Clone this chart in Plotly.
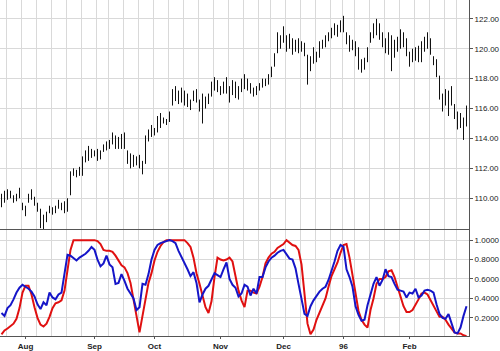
import pandas as pd
import plotly.graph_objects as go

# ---- data ----
holidays = ["1995-09-04", "1995-11-23", "1995-12-25", "1996-01-01", "1996-02-19"]
month_labels = {8: "Aug", 9: "Sep", 10: "Oct", 11: "Nov", 12: "Dec", 1: "96", 2: "Feb"}

highs = [
    110.3, 110.5, 110.6, 110.5, 110.2, 110.3, 110.7, 109.7, 109.5, 110.3,
    110.6, 110.1, 109.7, 109.3, 108.9, 109.1, 109.5, 109.4, 109.5, 109.9,
    109.7, 109.8, 110.0, 111.8, 112.0, 111.9, 112.1, 112.8, 113.2, 113.5,
    113.3, 113.2, 113.3, 113.2, 113.6, 113.8, 113.9, 114.4, 114.2, 114.1,
    114.3, 114.4, 113.2, 113.0, 112.9, 112.8, 112.9, 112.5, 114.2, 114.6,
    114.9, 114.7, 115.5, 115.7, 115.4, 115.3, 115.8, 117.3, 117.5, 117.2,
    117.4, 117.2, 117.0, 116.6, 117.2, 117.3, 116.6, 117.0, 116.8, 117.0,
    117.8, 118.1, 117.9, 117.5, 117.8, 118.1, 117.5, 117.9, 117.8, 117.5,
    118.0, 118.3, 118.0, 117.7, 117.4, 117.5, 117.7, 118.0, 118.0, 118.3,
    118.8, 119.7, 121.1, 120.9, 121.5, 120.9, 121.0, 120.7, 120.6, 120.7,
    120.5, 120.4, 119.6, 119.5, 120.1, 119.8, 120.5, 120.6, 120.9, 121.1,
    121.4, 121.7, 121.6, 121.9, 122.2, 121.1, 120.9, 120.6, 120.5, 120.1,
    119.3, 119.4, 120.1, 121.1, 121.7, 122.0, 121.7, 121.1, 120.7, 121.1,
    120.9, 120.6, 120.8, 121.3, 121.1, 120.7, 119.8, 120.0, 120.1, 120.2,
    120.5, 120.8, 121.1, 120.7, 119.5, 119.3, 118.2, 117.0, 117.3, 117.2,
    117.5, 116.3, 115.8, 115.7, 115.4, 116.2,
]
lows = [
    109.4, 109.7, 109.9, 110.0, 109.7, 109.8, 110.0, 109.2, 108.8, 109.7,
    109.9, 109.5, 109.1, 108.0, 107.9, 108.4, 109.0, 108.9, 109.0, 109.3,
    109.2, 109.0, 109.1, 110.2, 111.5, 111.4, 111.5, 111.5, 112.4, 112.5,
    112.7, 112.8, 112.5, 112.6, 113.1, 113.2, 113.3, 113.6, 113.3, 113.3,
    113.3, 113.3, 112.3, 112.0, 112.1, 112.2, 112.0, 111.6, 112.3, 113.8,
    114.1, 114.2, 114.4, 114.7, 115.0, 114.9, 115.1, 116.2, 116.5, 116.3,
    116.4, 116.2, 116.1, 115.9, 116.5, 116.4, 115.8, 115.0, 116.0, 116.3,
    116.8, 117.2, 117.1, 116.9, 117.0, 117.0, 116.4, 116.9, 116.7, 116.6,
    117.1, 117.3, 117.2, 117.0, 116.8, 116.9, 117.2, 117.4, 117.5, 117.6,
    118.1, 118.8, 119.7, 120.0, 120.4, 119.8, 120.0, 119.6, 119.8, 119.7,
    119.8, 119.5, 117.6, 118.5, 119.0, 119.1, 119.4, 120.0, 120.1, 120.5,
    120.7, 120.9, 120.8, 121.1, 121.1, 120.3, 119.8, 119.9, 119.5, 118.6,
    118.4, 118.6, 119.1, 120.4, 120.7, 120.9, 120.6, 120.1, 119.7, 119.6,
    118.5, 119.4, 119.8, 120.0, 120.1, 119.5, 118.8, 119.1, 119.2, 119.1,
    119.1, 119.8, 120.0, 119.6, 118.9, 118.1, 116.6, 115.8, 116.2, 115.5,
    116.2, 115.3, 114.6, 114.7, 113.9, 114.8,
]
closes = [
    110.0, 110.3, 110.2, 110.4, 109.9, 110.0, 110.1, 109.5, 109.2, 110.0,
    110.2, 109.7, 109.3, 108.3, 108.2, 108.9, 109.4, 109.1, 109.2, 109.6,
    109.4, 109.2, 109.9, 111.6, 111.7, 111.6, 111.8, 112.6, 112.9, 113.2,
    113.0, 113.1, 112.7, 113.0, 113.4, 113.6, 113.5, 114.2, 113.6, 113.9,
    114.0, 113.5, 112.6, 112.3, 112.5, 112.4, 112.3, 112.0, 114.0, 114.3,
    114.5, 114.5, 115.2, 115.0, 115.2, 115.0, 115.6, 116.9, 117.0, 116.8,
    117.0, 116.5, 116.3, 116.0, 116.9, 116.8, 116.2, 116.5, 116.6, 116.8,
    117.5, 117.9, 117.3, 117.1, 117.6, 117.4, 116.8, 117.5, 117.2, 117.0,
    117.7, 117.5, 117.6, 117.2, 117.0, 117.3, 117.5, 117.8, 117.7, 118.0,
    118.6, 119.5, 120.6, 120.4, 121.0, 120.2, 120.5, 120.0, 120.3, 120.2,
    120.1, 119.9, 118.5, 119.2, 119.6, 119.4, 120.0, 120.3, 120.7, 120.9,
    121.2, 121.5, 121.0, 121.7, 121.3, 120.6, 120.2, 120.4, 119.7, 118.9,
    118.8, 119.0, 119.8, 120.9, 121.4, 121.5, 120.9, 120.4, 120.0, 120.6,
    119.0, 120.0, 120.5, 120.7, 120.4, 119.8, 119.3, 119.6, 119.5, 119.8,
    120.2, 120.5, 120.8, 119.9, 119.2, 118.3, 116.8, 116.0, 116.5, 116.0,
    116.4, 115.5, 115.0, 115.1, 114.5, 116.0,
]
blue_k = [
    0.25, 0.22, 0.30, 0.33, 0.39, 0.46, 0.51, 0.54, 0.52, 0.50,
    0.47, 0.42, 0.34, 0.29, 0.36, 0.33, 0.46, 0.41, 0.39, 0.44,
    0.46, 0.65, 0.85, 0.84, 0.81, 0.79, 0.82, 0.84, 0.86, 0.89,
    0.93, 0.90, 0.80, 0.73, 0.76, 0.84, 0.75, 0.72, 0.55, 0.56,
    0.65, 0.58, 0.50, 0.45, 0.40, 0.28, 0.31, 0.55, 0.54, 0.65,
    0.80, 0.90, 0.95, 0.97, 0.98, 0.99, 1.00, 0.99, 0.97, 0.89,
    0.83, 0.77, 0.70, 0.63, 0.67, 0.56, 0.36, 0.44, 0.50, 0.53,
    0.60, 0.66, 0.64, 0.62, 0.70, 0.77, 0.60, 0.54, 0.51, 0.42,
    0.45, 0.54, 0.52, 0.43, 0.50, 0.45, 0.62, 0.62, 0.72, 0.78,
    0.82, 0.84, 0.87, 0.89, 0.90, 0.86, 0.81, 0.80, 0.71, 0.55,
    0.39, 0.24, 0.22, 0.32, 0.38, 0.43, 0.47, 0.50, 0.52, 0.59,
    0.68, 0.78, 0.89, 0.95, 0.93, 0.70, 0.62, 0.52, 0.32, 0.23,
    0.17, 0.18, 0.33, 0.45, 0.55, 0.62, 0.53, 0.59, 0.70, 0.63,
    0.62, 0.55, 0.49, 0.48, 0.47, 0.41, 0.46, 0.45, 0.50, 0.41,
    0.43, 0.48, 0.49, 0.48, 0.46, 0.34, 0.24, 0.20, 0.19, 0.24,
    0.14, 0.05, 0.04, 0.10, 0.22, 0.32,
]
red_d = [
    0.03, 0.07, 0.09, 0.12, 0.14, 0.19, 0.30, 0.46, 0.53, 0.53,
    0.44, 0.31, 0.20, 0.13, 0.11, 0.14, 0.21, 0.30, 0.35, 0.36,
    0.38, 0.48, 0.72, 0.90, 1.00, 1.00, 1.00, 1.00, 1.00, 1.00,
    1.00, 1.00, 0.99, 0.96, 0.90, 0.89, 0.89, 0.88, 0.84, 0.79,
    0.74, 0.72, 0.66, 0.56, 0.40, 0.22, 0.05, 0.22, 0.38, 0.56,
    0.66, 0.79, 0.88, 0.94, 0.98, 1.00, 1.00, 1.00, 1.00, 1.00,
    1.00, 1.00, 0.97, 0.93, 0.82, 0.66, 0.55, 0.42, 0.31, 0.25,
    0.37, 0.62, 0.82, 0.80, 0.79, 0.80, 0.82, 0.78, 0.62, 0.48,
    0.38, 0.31, 0.48, 0.48, 0.46, 0.45, 0.52, 0.62, 0.76, 0.82,
    0.86, 0.88, 0.92, 0.94, 0.96, 1.00, 0.97, 0.95, 0.94, 0.90,
    0.75, 0.45, 0.14, 0.03, 0.08, 0.18, 0.26, 0.32, 0.40, 0.52,
    0.63, 0.70, 0.77, 0.87, 0.95, 0.96, 0.82, 0.64, 0.45, 0.27,
    0.18, 0.13, 0.10, 0.28, 0.40, 0.55, 0.60, 0.60, 0.62, 0.68,
    0.69, 0.62, 0.52, 0.43, 0.32, 0.26, 0.26, 0.28, 0.33, 0.39,
    0.45, 0.46, 0.44, 0.38, 0.32, 0.26, 0.21, 0.21, 0.18, 0.13,
    0.09, 0.05, 0.04, 0.04, 0.02, 0.01,
]
price_ticks = [110, 112, 114, 116, 118, 120, 122]
osc_ticks = [0.2, 0.4, 0.6, 0.8, 1.0]

# ---- trading-day axis ----
all_days = [d for d in pd.bdate_range("1995-07-20", "1996-02-29")
            if d.strftime("%Y-%m-%d") not in holidays]
n = len(closes)
dates = all_days[:n]
x = list(range(n))
month_vals, month_text = [], []
for i in range(1, n):
    if dates[i].month != dates[i - 1].month:
        month_vals.append(i)
        month_text.append(month_labels[dates[i].month])
week_vals = [i - 0.5 for i in range(1, n) if dates[i].weekday() < dates[i - 1].weekday()]

FONT = "Liberation Sans, Arial, sans-serif"
GRID = "#d9d9d9"
AX = "#555555"

fig = go.Figure()
fig.add_trace(go.Ohlc(
    x=x, open=closes, high=highs, low=lows, close=closes,
    increasing=dict(line=dict(color="#111111", width=1)),
    decreasing=dict(line=dict(color="#111111", width=1)),
    tickwidth=0.15, xaxis="x", yaxis="y", showlegend=False, hoverinfo="skip"))
fig.add_trace(go.Scatter(x=x, y=red_d, mode="lines", line=dict(color="#e01010", width=2),
                         xaxis="x2", yaxis="y2", showlegend=False))
fig.add_trace(go.Scatter(x=x, y=blue_k, mode="lines", line=dict(color="#1515c8", width=2),
                         xaxis="x2", yaxis="y2", showlegend=False))

split = 107 / 339
xr = [-0.5, 155.83]
minor_grid = dict(tickvals=week_vals, showgrid=True, gridcolor=GRID, gridwidth=1,
                  ticks="", ticklen=0)
fig.update_layout(
    width=500, height=351, margin=dict(l=0, r=31, t=0, b=12),
    paper_bgcolor="white", plot_bgcolor="white", showlegend=False,
    font=dict(family=FONT, size=8, color="#222222"),
    xaxis=dict(domain=[0, 1], anchor="y", range=xr, showticklabels=False, ticks="",
               showgrid=False, zeroline=False, showline=False, fixedrange=True,
               minor=minor_grid, rangeslider=dict(visible=False)),
    yaxis=dict(domain=[split, 1], anchor="x", side="right", range=[107.88, 123.26],
               tickmode="array", tickvals=price_ticks, tickformat=".2f",
               showgrid=True, gridcolor=GRID, zeroline=False, showline=True,
               linecolor=AX, ticks="outside", ticklen=3, tickcolor=AX,
               tickfont=dict(size=8, color="#222222")),
    xaxis2=dict(domain=[0, 1], anchor="y2", range=xr, tickmode="array",
                tickvals=month_vals, ticktext=month_text, ticks="outside", ticklen=2,
                tickcolor=AX, showgrid=False, zeroline=False, showline=True,
                linecolor=AX, linewidth=1, mirror=True, fixedrange=True,
                minor=minor_grid,
                tickfont=dict(size=8, color="#222222", weight="bold")),
    yaxis2=dict(domain=[0, split], anchor="x2", side="right", range=[0.013, 1.105],
                tickmode="array", tickvals=osc_ticks, tickformat=".4f",
                showgrid=True, gridcolor=GRID, zeroline=False, showline=True,
                linecolor=AX, ticks="outside", ticklen=3, tickcolor=AX,
                tickfont=dict(size=8, color="#222222")),
)
fig.write_html("out.html")
